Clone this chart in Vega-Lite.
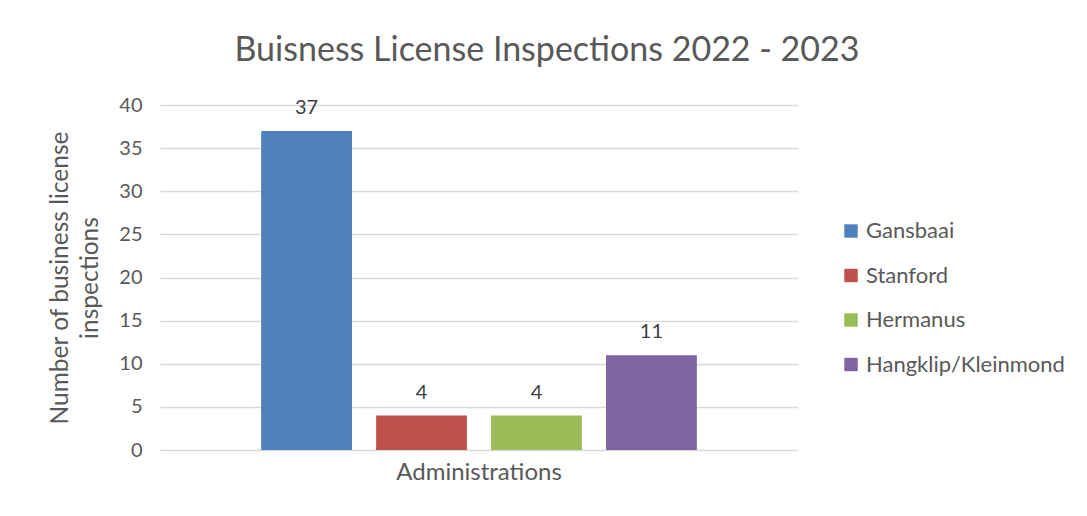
{
  "$schema": "https://vega.github.io/schema/vega-lite/v6.json",
  "autosize": "none",
  "width": 638,
  "height": 345,
  "padding": {"left": 160, "top": 105, "right": 289, "bottom": 66},
  "background": "white",
  "config": {
    "font": "Lato",
    "view": {"stroke": null}
  },
  "title": {
    "text": "Buisness License Inspections 2022 - 2023",
    "fontSize": 34,
    "fontWeight": "normal",
    "color": "#595959",
    "font": "Lato",
    "anchor": "middle",
    "frame": "group",
    "dx": 68,
    "offset": 27
  },
  "data": {
    "values": [
      {"group": "Administrations", "admin": "Gansbaai", "value": 37},
      {"group": "Administrations", "admin": "Stanford", "value": 4},
      {"group": "Administrations", "admin": "Hermanus", "value": 4},
      {"group": "Administrations", "admin": "Hangklip/Kleinmond", "value": 11}
    ]
  },
  "encoding": {
    "x": {
      "field": "group",
      "type": "nominal",
      "scale": {"paddingInner": 0, "paddingOuter": 0},
      "axis": {
        "title": null,
        "labelAngle": 0,
        "labelFontSize": 24,
        "labelColor": "#595959",
        "labelPadding": 10,
        "domain": false,
        "ticks": false
      }
    },
    "xOffset": {
      "field": "admin",
      "type": "nominal",
      "sort": ["Gansbaai", "Stanford", "Hermanus", "Hangklip/Kleinmond"],
      "scale": {"paddingInner": 0.21, "paddingOuter": 0.88}
    },
    "y": {
      "field": "value",
      "type": "quantitative",
      "scale": {"domain": [0, 40]},
      "axis": {
        "values": [0, 5, 10, 15, 20, 25, 30, 35, 40],
        "title": ["Number of business license", "inspections"],
        "titleFontSize": 24.5,
        "titleFontWeight": "normal",
        "titleColor": "#595959",
        "titlePadding": 16,
        "titleLineHeight": 30,
        "labelFontSize": 20,
        "labelColor": "#595959",
        "labelPadding": 18,
        "gridColor": "#D9D9D9",
        "gridWidth": 1.5,
        "domain": false,
        "ticks": false
      }
    }
  },
  "layer": [
    {
      "mark": {"type": "bar"},
      "encoding": {
        "color": {
          "field": "admin",
          "type": "nominal",
          "sort": ["Gansbaai", "Stanford", "Hermanus", "Hangklip/Kleinmond"],
          "scale": {
            "domain": ["Gansbaai", "Stanford", "Hermanus", "Hangklip/Kleinmond"],
            "range": ["#4F81BD", "#C0504D", "#9BBB59", "#8064A2"]
          },
          "legend": {
            "title": null,
            "orient": "none",
            "legendX": 680,
            "legendY": 115,
            "symbolType": "square",
            "symbolSize": 180,
            "symbolStrokeWidth": 0,
            "labelFontSize": 22,
            "labelColor": "#595959",
            "labelOffset": 4,
            "rowPadding": 22.5,
            "labelLimit": 300
          }
        }
      }
    },
    {
      "mark": {
        "type": "text",
        "baseline": "bottom",
        "dy": -13,
        "fontSize": 20,
        "color": "#404040"
      },
      "encoding": {
        "text": {"field": "value", "type": "quantitative"}
      }
    }
  ]
}
